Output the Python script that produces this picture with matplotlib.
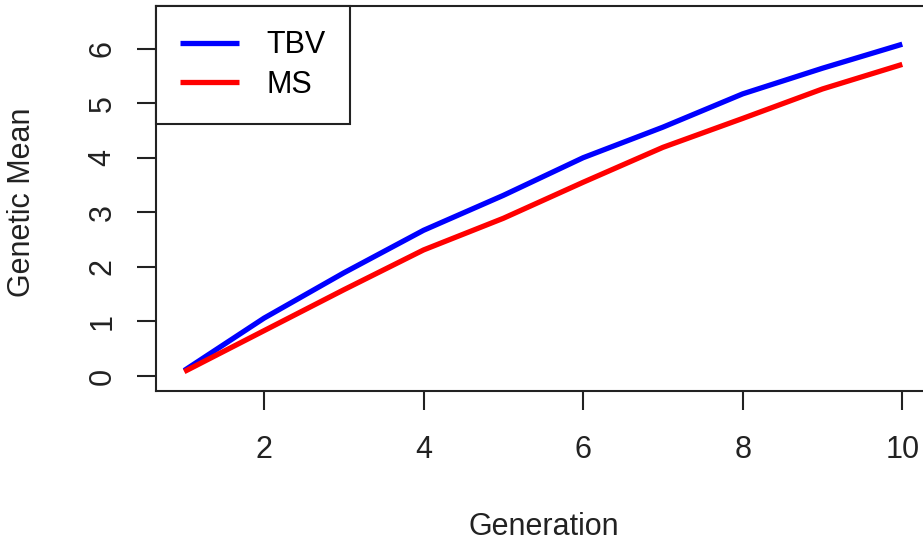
import matplotlib.pyplot as plt

# 数据
generation = [1, 2, 3, 4, 5, 6, 7, 8, 9, 10]
tbv = [0.10, 1.06, 1.89, 2.67, 3.31, 4.00, 4.56, 5.17, 5.64, 6.08]
ms = [0.08, 0.83, 1.58, 2.31, 2.89, 3.55, 4.19, 4.72, 5.26, 5.71]

x_ticks = [2, 4, 6, 8, 10]
y_ticks = [0, 1, 2, 3, 4, 5, 6]

plt.rcParams["font.family"] = ["Liberation Sans", "DejaVu Sans"]
plt.rcParams["font.size"] = 22

fig = plt.figure(figsize=(9.23, 5.45), dpi=100)
# 右侧坐标框超出图片，与原图一致
ax = fig.add_axes([156 / 923, 154 / 545, 775 / 923, 385 / 545])

ax.plot(generation, tbv, color="#0000FF", lw=3.8, label="TBV", solid_capstyle="butt")
ax.plot(generation, ms, color="#FF0000", lw=3.8, label="MS", solid_capstyle="butt")

ax.set_xlim(0.646, 10.36)
ax.set_ylim(-0.275, 6.78)
ax.set_xticks(x_ticks)
ax.set_yticks(y_ticks)
ax.set_yticklabels([str(v) for v in y_ticks], rotation=90, va="center")

for s in ax.spines.values():
    s.set_linewidth(1.5)
    s.set_color("#222222")
ax.tick_params(length=13.7, width=1.5, color="#222222", labelcolor="#222222")
ax.tick_params(axis="x", pad=18)
ax.tick_params(axis="y", pad=14)

ax.set_xlabel("Generation", color="#222222")
ax.xaxis.label.set_va("center")
ax.xaxis.set_label_coords(0.5, -0.353)
ax.set_ylabel("Genetic Mean", color="#222222")
ax.yaxis.label.set_va("center")
ax.yaxis.set_label_coords(-0.173, 0.49)

leg = ax.legend(loc="upper left", borderaxespad=0, fancybox=False, framealpha=1,
                handlelength=1.9, handletextpad=0.92, borderpad=0.8, labelspacing=0.3)
leg.get_frame().set_edgecolor("#222222")
leg.get_frame().set_linewidth(1.5)

fig.savefig("out.png", dpi=100)
